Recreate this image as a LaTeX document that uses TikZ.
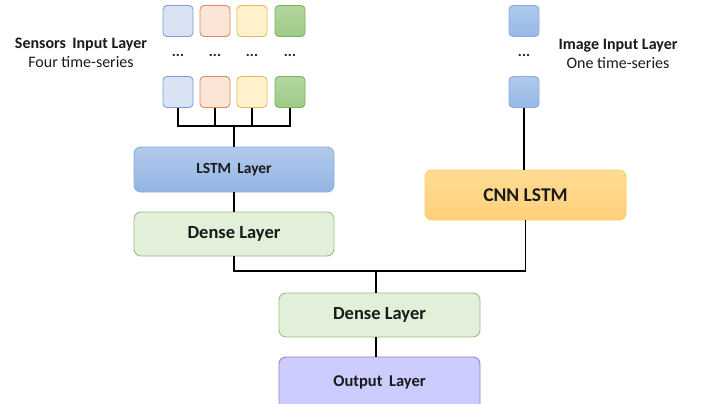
\documentclass[tikz,border=0pt]{standalone}
\usepackage{fontspec}
\setmainfont{Carlito}
\usetikzlibrary{positioning}
\definecolor{sqblue}{HTML}{DAE3F3}\definecolor{sqblueb}{HTML}{7F9FDC}
\definecolor{sqred}{HTML}{FBE5D6}\definecolor{sqredb}{HTML}{E0896A}
\definecolor{sqyel}{HTML}{FFF2CC}\definecolor{sqyelb}{HTML}{E2BC5C}
\definecolor{sqgrnT}{HTML}{B5D6A0}\definecolor{sqgrnB}{HTML}{9CCB86}\definecolor{sqgrnb}{HTML}{7DB35D}
\definecolor{imT}{HTML}{AFC9EC}\definecolor{imB}{HTML}{96B9E6}\definecolor{imb}{HTML}{88ADE0}
\definecolor{lstmT}{HTML}{B2CAEA}\definecolor{lstmB}{HTML}{93B5E4}\definecolor{lstmb}{HTML}{8AAEE0}
\definecolor{cnnT}{HTML}{FFDC94}\definecolor{cnnB}{HTML}{FFD07A}\definecolor{cnnb}{HTML}{FFCD5C}
\definecolor{dense}{HTML}{E2EFD9}\definecolor{denseb}{HTML}{9BBF85}
\definecolor{outc}{HTML}{CCCCFF}\definecolor{outb}{HTML}{9A7FC8}
\definecolor{txt}{HTML}{1A1A1A}
\tikzset{
  sq/.style={draw, line width=0.9pt, rounded corners=4pt, minimum width=30pt, minimum height=31pt, inner sep=0pt},
  layer/.style={draw, line width=0.9pt, rounded corners=7pt, minimum width=200pt, inner sep=0pt, font=\bfseries, text=txt},
  wire/.style={line width=1.6pt, black},
  dots/.style={font=\bfseries\fontsize{15}{18}\selectfont, text=txt, inner sep=0pt},
  lbl/.style={align=center, text=txt, inner sep=0pt}
}
\begin{document}
\begin{tikzpicture}[x=1pt,y=-1pt]
\useasboundingbox (0,0) rectangle (701,404);
\fill[white] (0,0) rectangle (701,404);
\begin{scope}
\clip (0,0) rectangle (701,404);
% sensor squares top row
\node[sq, draw=sqblueb, fill=sqblue] (b1) at (178,21) {};
\node[sq, draw=sqredb, fill=sqred] (r1) at (215,21) {};
\node[sq, draw=sqyelb, fill=sqyel] (y1) at (252,21) {};
\node[sq, draw=sqgrnb, top color=sqgrnT, bottom color=sqgrnB] (g1) at (290,21) {};
% dots
\node[dots] (d1) at (178,55) {...};
\node[dots] (d2) at (215,55) {...};
\node[dots] (d3) at (252,55) {...};
\node[dots] (d4) at (290,55) {...};
% bottom row
\node[sq, draw=sqblueb, fill=sqblue] (b2) at (178,92) {};
\node[sq, draw=sqredb, fill=sqred] (r2) at (215,92) {};
\node[sq, draw=sqyelb, fill=sqyel] (y2) at (252,92) {};
\node[sq, draw=sqgrnb, top color=sqgrnT, bottom color=sqgrnB] (g2) at (290,92) {};
% image squares
\node[sq, draw=imb, top color=imT, bottom color=imB] (i1) at (524,21) {};
\node[dots] (d5) at (524,55) {...};
\node[sq, draw=imb, top color=imT, bottom color=imB] (i2) at (524,92) {};
% labels
\node[lbl, font=\fontsize{16}{19}\selectfont] (sl) at (81,53) {\textbf{Sensors\, Input Layer}\\ Four time-series};
\node[lbl, font=\fontsize{16}{19}\selectfont] (il) at (618,54) {\textbf{Image Input Layer}\\ One time-series};
% layers
\node[layer, draw=lstmb, top color=lstmT, bottom color=lstmB, minimum height=45pt, font=\bfseries\fontsize{15.5}{18}\selectfont] (lstm) at (234,169.5) {LSTM\, Layer};
\node[layer, draw=denseb, fill=dense, minimum height=44pt, font=\bfseries\fontsize{18.5}{22}\selectfont] (dn1) at (234,234) {Dense Layer};
\node[layer, draw=cnnb, top color=cnnT, bottom color=cnnB, minimum width=201pt, minimum height=50pt, font=\bfseries\fontsize{19.5}{23}\selectfont] (cnn) at (525.5,195) {CNN LSTM};
\node[layer, draw=denseb, fill=dense, minimum width=201pt, minimum height=44pt, font=\bfseries\fontsize{18.5}{22}\selectfont] (dn2) at (379.5,315) {Dense Layer};
\node[layer, draw=outb, fill=outc, minimum width=201pt, minimum height=56pt, font=\bfseries\fontsize{16.5}{20}\selectfont] (out) at (379.5,385) {\raisebox{7pt}{Output\, Layer}};
\end{scope}
% wires
\coordinate (j1) at (234,126);
\draw[wire] (b2.south) |- (g2.south |- j1) -- (g2.south);
\draw[wire] (r2.south) -- (r2.south |- j1);
\draw[wire] (y2.south) -- (y2.south |- j1);
\draw[wire] (j1) -- (lstm.north);
\draw[wire] (lstm.south) -- (dn1.north);
\draw[wire] (i2.south) -- (cnn.north -| i2.south);
\coordinate (j2) at (376,271);
\draw[wire] (dn1.south) |- (cnn.south |- j2) -- (cnn.south);
\draw[wire] (j2) -- (j2 |- dn2.north);
\draw[wire] (dn2.south -| j2) -- (j2 |- out.north);
\end{tikzpicture}
\end{document}
